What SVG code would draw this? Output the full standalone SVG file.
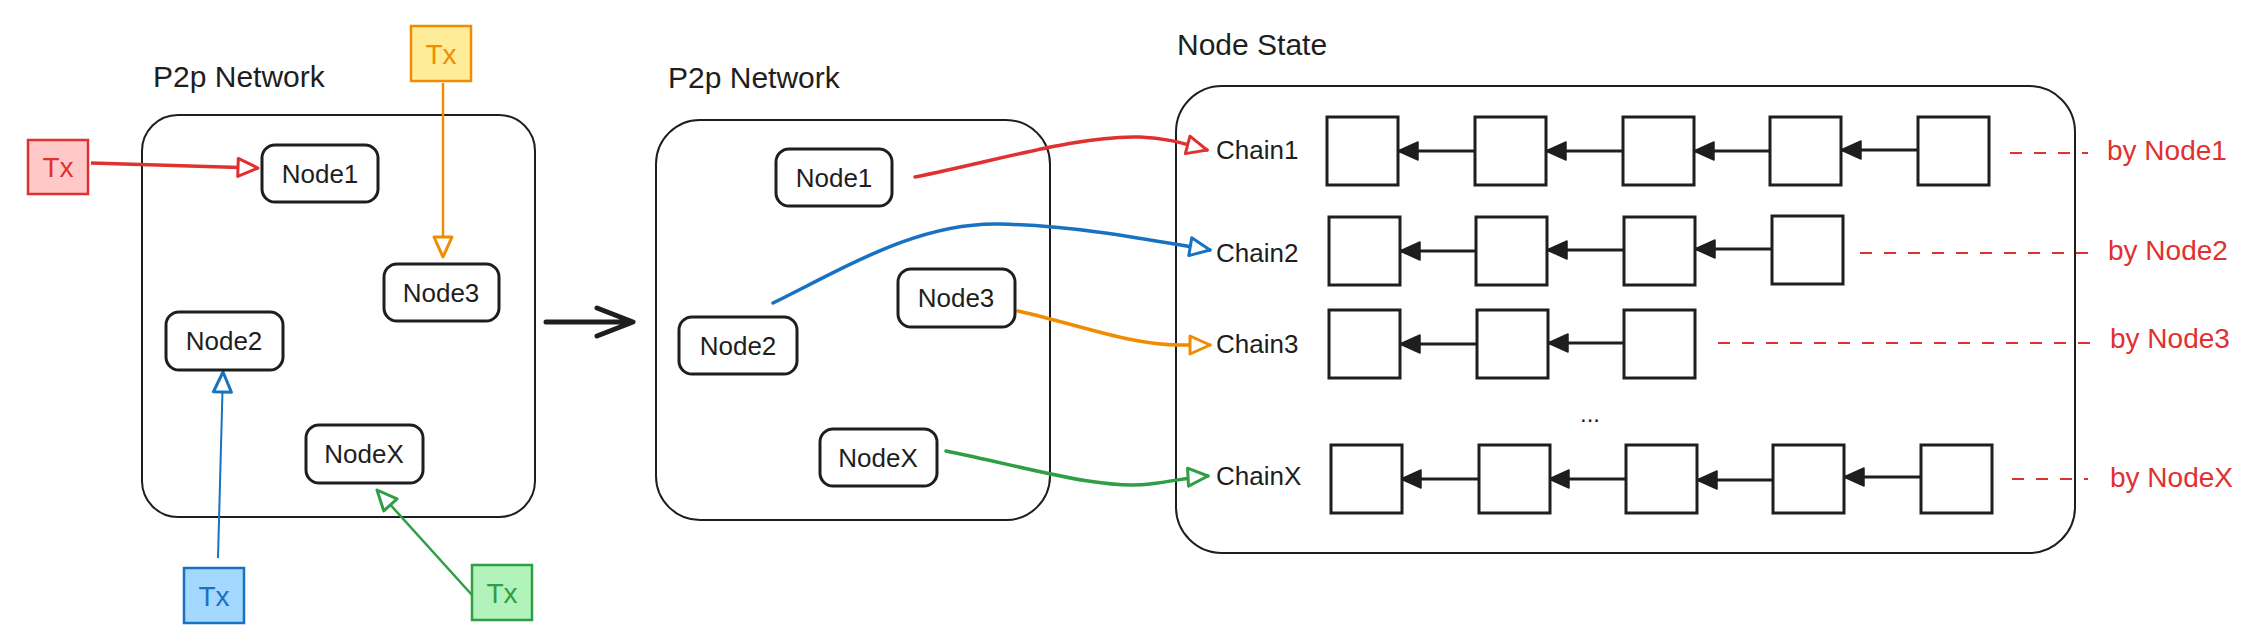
<svg xmlns="http://www.w3.org/2000/svg" width="2261" height="642" viewBox="0 0 2261 642">
<style>
  text { font-family: "Liberation Sans", Arial, sans-serif; fill: #1e1e1e; }
  .title { font-size: 30px; }
  .node { font-size: 26px; text-anchor: middle; }
  .tx { font-size: 28px; text-anchor: middle; }
  .chain { font-size: 26px; }
  .by { font-size: 28px; fill: #e03131; }
  .container { fill: none; stroke: #1e1e1e; stroke-width: 2; }
  .nbox { fill: #fff; stroke: #1e1e1e; stroke-width: 3; }
  .blk { fill: #fff; stroke: #1e1e1e; stroke-width: 3; }
  .link { stroke: #1e1e1e; stroke-width: 3; fill: none; marker-end: url(#fBlack); }
  .dash { stroke: #e03131; stroke-width: 2; stroke-dasharray: 12 12; fill: none; }
  .curve { fill: none; stroke-width: 3.5; stroke-linecap: round; }
</style>
<defs>
  <marker id="oRed" markerUnits="userSpaceOnUse" markerWidth="24" markerHeight="22" refX="20" refY="9" orient="auto" overflow="visible"><path d="M0,0 L20,9 L0,18 Z" fill="#fff" stroke="#e03131" stroke-width="3" stroke-linejoin="round"/></marker>
  <marker id="oOrange" markerUnits="userSpaceOnUse" markerWidth="24" markerHeight="22" refX="20" refY="9" orient="auto" overflow="visible"><path d="M0,0 L20,9 L0,18 Z" fill="#fff" stroke="#f08c00" stroke-width="3" stroke-linejoin="round"/></marker>
  <marker id="oBlue" markerUnits="userSpaceOnUse" markerWidth="24" markerHeight="22" refX="20" refY="9" orient="auto" overflow="visible"><path d="M0,0 L20,9 L0,18 Z" fill="#fff" stroke="#1971c2" stroke-width="3" stroke-linejoin="round"/></marker>
  <marker id="oGreen" markerUnits="userSpaceOnUse" markerWidth="24" markerHeight="22" refX="20" refY="9" orient="auto" overflow="visible"><path d="M0,0 L20,9 L0,18 Z" fill="#fff" stroke="#2f9e44" stroke-width="3" stroke-linejoin="round"/></marker>
  <marker id="fBlack" markerUnits="userSpaceOnUse" markerWidth="24" markerHeight="22" refX="20" refY="9" orient="auto" overflow="visible"><path d="M0,0 L20,9 L0,18 Z" fill="#1e1e1e" stroke="#1e1e1e" stroke-width="1.5" stroke-linejoin="round"/></marker>
</defs>
<rect width="2261" height="642" fill="#fff"/>

<!-- Titles -->
<text class="title" x="153" y="87">P2p Network</text>
<text class="title" x="668" y="88">P2p Network</text>
<text class="title" x="1177" y="55">Node State</text>

<!-- Containers -->
<g id="left-network"><rect class="container" x="142" y="115" width="393" height="402" rx="36"/></g>
<g id="mid-network"><rect class="container" x="656" y="120" width="394" height="400" rx="44"/></g>
<g id="node-state"><rect class="container" x="1176" y="86" width="899" height="467" rx="46"/></g>

<!-- Connectors -->
<g id="connectors">
  <path d="M91,163 L258,168" stroke="#e03131" stroke-width="3.5" fill="none" marker-end="url(#oRed)"/>
  <path d="M443,83 L443,257" stroke="#f08c00" stroke-width="2.5" fill="none" marker-end="url(#oOrange)"/>
  <path d="M218,558 L223,372" stroke="#1971c2" stroke-width="2" fill="none" marker-end="url(#oBlue)"/>
  <path d="M472,595 L377,490" stroke="#2f9e44" stroke-width="2.5" fill="none" marker-end="url(#oGreen)"/>
  <path d="M546,322 L630,322 M597,308 L633,322 L597,336" stroke="#1e1e1e" stroke-width="5" stroke-linecap="round" stroke-linejoin="round" fill="none"/>
  <path class="curve" d="M915,177 C1000,160 1080,135 1140,137 C1170,138 1188,145 1207,150" stroke="#e03131" marker-end="url(#oRed)"/>
  <path class="curve" d="M773,303 C850,265 920,222 1000,224 C1080,226 1150,240 1210,250" stroke="#1971c2" marker-end="url(#oBlue)"/>
  <path class="curve" d="M1018,311 C1080,325 1130,345 1180,345 L1210,345" stroke="#f08c00" marker-end="url(#oOrange)"/>
  <path class="curve" d="M946,451 C1030,468 1100,490 1150,484 C1175,481 1190,477 1208,476" stroke="#2f9e44" marker-end="url(#oGreen)"/>
  <!-- chain links -->
  <path class="link" d="M1475,151 L1398,151"/>
  <path class="link" d="M1623,151 L1546,151"/>
  <path class="link" d="M1770,151 L1694,151"/>
  <path class="link" d="M1918,150 L1841,150"/>
  <path class="link" d="M1476,251 L1400,251"/>
  <path class="link" d="M1624,250 L1547,250"/>
  <path class="link" d="M1772,249 L1695,249"/>
  <path class="link" d="M1477,344 L1400,344"/>
  <path class="link" d="M1624,343 L1548,343"/>
  <path class="link" d="M1479,479 L1401,479"/>
  <path class="link" d="M1626,479 L1549,479"/>
  <path class="link" d="M1773,480 L1697,480"/>
  <path class="link" d="M1921,477 L1844,477"/>
  <!-- dashed ownership lines -->
  <path class="dash" d="M2010,153 L2088,153"/>
  <path class="dash" d="M1860,253 L2090,253"/>
  <path class="dash" d="M1718,343 L2090,343"/>
  <path class="dash" d="M2012,479 L2088,479"/>
</g>

<!-- Tx nodes -->
<g id="tx-red"><rect x="28" y="140" width="60" height="54" fill="#ffc9c9" stroke="#e03131" stroke-width="2.5"/><text class="tx" x="58" y="177" style="fill:#e03131">Tx</text></g>
<g id="tx-orange"><rect x="411" y="26" width="60" height="55" fill="#ffec99" stroke="#f08c00" stroke-width="2.5"/><text class="tx" x="441" y="64" style="fill:#f08c00">Tx</text></g>
<g id="tx-blue"><rect x="184" y="568" width="60" height="55" fill="#a5d8ff" stroke="#1971c2" stroke-width="2.5"/><text class="tx" x="214" y="606" style="fill:#1971c2">Tx</text></g>
<g id="tx-green"><rect x="472" y="565" width="60" height="55" fill="#b2f2bb" stroke="#2f9e44" stroke-width="2.5"/><text class="tx" x="502" y="603" style="fill:#2f9e44">Tx</text></g>

<!-- Left network nodes -->
<g id="l-node1"><rect class="nbox" x="262" y="145" width="116" height="57" rx="13"/><text class="node" x="320" y="183">Node1</text></g>
<g id="l-node3"><rect class="nbox" x="384" y="264" width="115" height="57" rx="13"/><text class="node" x="441" y="302">Node3</text></g>
<g id="l-node2"><rect class="nbox" x="166" y="312" width="117" height="58" rx="13"/><text class="node" x="224" y="350">Node2</text></g>
<g id="l-nodex"><rect class="nbox" x="306" y="425" width="117" height="58" rx="13"/><text class="node" x="364" y="463">NodeX</text></g>

<!-- Middle network nodes -->
<g id="m-node1"><rect class="nbox" x="776" y="149" width="116" height="57" rx="13"/><text class="node" x="834" y="187">Node1</text></g>
<g id="m-node3"><rect class="nbox" x="898" y="269" width="117" height="58" rx="13"/><text class="node" x="956" y="307">Node3</text></g>
<g id="m-node2"><rect class="nbox" x="679" y="317" width="118" height="57" rx="13"/><text class="node" x="738" y="355">Node2</text></g>
<g id="m-nodex"><rect class="nbox" x="820" y="429" width="117" height="57" rx="13"/><text class="node" x="878" y="467">NodeX</text></g>

<!-- Chain labels -->
<g id="chain1-label"><text class="chain" x="1216" y="159">Chain1</text></g>
<g id="chain2-label"><text class="chain" x="1216" y="262">Chain2</text></g>
<g id="chain3-label"><text class="chain" x="1216" y="353">Chain3</text></g>
<g id="chainx-label"><text class="chain" x="1216" y="485">ChainX</text></g>

<!-- Chain blocks -->
<g id="chain1-blocks">
  <rect class="blk" x="1327" y="117" width="71" height="68"/>
  <rect class="blk" x="1475" y="117" width="71" height="68"/>
  <rect class="blk" x="1623" y="117" width="71" height="68"/>
  <rect class="blk" x="1770" y="117" width="71" height="68"/>
  <rect class="blk" x="1918" y="117" width="71" height="68"/>
</g>
<g id="chain2-blocks">
  <rect class="blk" x="1329" y="217" width="71" height="68"/>
  <rect class="blk" x="1476" y="217" width="71" height="68"/>
  <rect class="blk" x="1624" y="217" width="71" height="68"/>
  <rect class="blk" x="1772" y="216" width="71" height="68"/>
</g>
<g id="chain3-blocks">
  <rect class="blk" x="1329" y="310" width="71" height="68"/>
  <rect class="blk" x="1477" y="310" width="71" height="68"/>
  <rect class="blk" x="1624" y="310" width="71" height="68"/>
</g>
<g id="chainx-blocks">
  <rect class="blk" x="1331" y="445" width="71" height="68"/>
  <rect class="blk" x="1479" y="445" width="71" height="68"/>
  <rect class="blk" x="1626" y="445" width="71" height="68"/>
  <rect class="blk" x="1773" y="445" width="71" height="68"/>
  <rect class="blk" x="1921" y="445" width="71" height="68"/>
</g>
<g id="ellipsis"><text x="1590" y="422" style="font-size:24px;text-anchor:middle">...</text></g>

<!-- Ownership labels -->
<g id="by-node1"><text class="by" x="2107" y="160">by Node1</text></g>
<g id="by-node2"><text class="by" x="2108" y="260">by Node2</text></g>
<g id="by-node3"><text class="by" x="2110" y="348">by Node3</text></g>
<g id="by-nodex"><text class="by" x="2110" y="487">by NodeX</text></g>
</svg>
